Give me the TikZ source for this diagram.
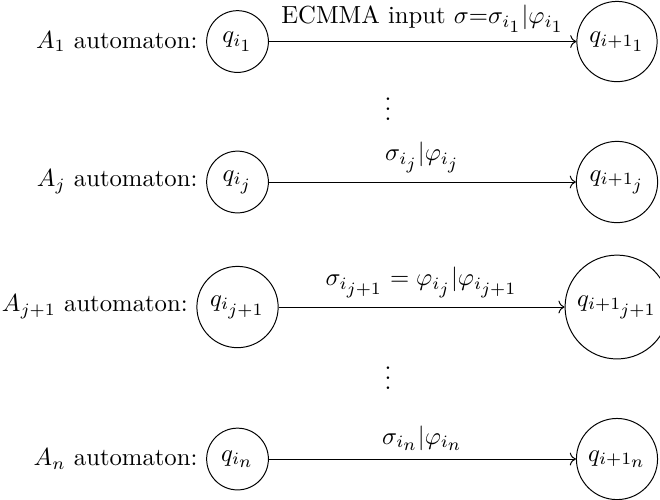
\documentclass[tikz,border=0pt]{standalone}
\usepackage{amsmath}
\usepackage{tikz}
\usetikzlibrary{arrows.meta,positioning}
\DeclareMathSizes{10}{10}{7}{7}
\tikzset{
  automstate/.style={draw,circle,minimum size=2.5em},
  automname/.style={inner sep=3.33pt},
  trans/.style={->},
}

\begin{document}
\begin{tikzpicture}
  \useasboundingbox (0,0) rectangle (9.392,-7.101);

  \node[automstate] (qi1) at (3.380,-0.591) {$q_{i_1}$};
  \node[automstate] (qn1) at (8.780,-0.591) {$q_{i+1_1}$};
  \node[automname,left=0pt of qi1] (A1) {$A_1$ automaton:};
  \draw[trans] (qi1) -- node[above] (t1) {ECMMA input $\sigma$=$\sigma_{i_1}|\varphi_{i_1}$} (qn1);

  \node[anchor=base] (dots1) at (5.521,-1.715) {$\vdots$};

  \node[automstate] (qij) at (3.380,-2.590) {$q_{i_j}$};
  \node[automstate] (qnj) at (8.780,-2.590) {$q_{i+1_j}$};
  \node[automname,left=0pt of qij] (Aj) {$A_j$ automaton:};
  \draw[trans] (qij) -- node[above] (tj) {$\sigma_{i_j}|\varphi_{i_j}$} (qnj);

  \node[automstate] (qijj) at (3.380,-4.369) {$q_{i_{j+1}}$};
  \node[automstate] (qnjj) at (8.780,-4.369) {$q_{i+1_{j+1}}$};
  \node[automname,left=0pt of qijj] (Ajj) {$A_{j+1}$ automaton:};
  \draw[trans] (qijj) -- node[above] (tjj) {$\sigma_{i_{j+1}} = \varphi_{i_j}|\varphi_{i_{j+1}}$} (qnjj);

  \node[anchor=base] (dots2) at (5.521,-5.543) {$\vdots$};

  \node[automstate] (qin) at (3.380,-6.532) {$q_{i_n}$};
  \node[automstate] (qnn) at (8.780,-6.532) {$q_{i+1_n}$};
  \node[automname,left=0pt of qin] (An) {$A_n$ automaton:};
  \draw[trans] (qin) -- node[above] (tn) {$\sigma_{i_n}|\varphi_{i_n}$} (qnn);
\end{tikzpicture}
\end{document}
